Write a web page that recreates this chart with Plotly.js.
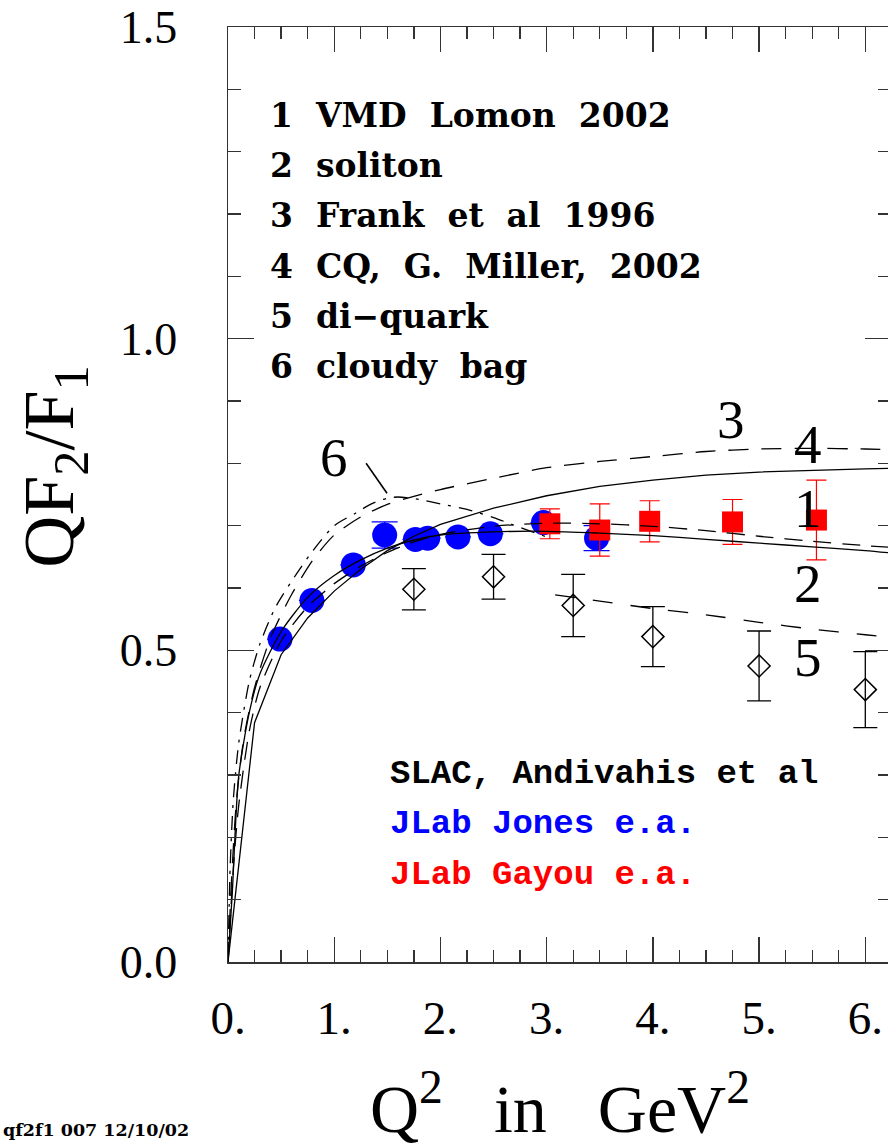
<!DOCTYPE html>
<html>
<head>
<meta charset="utf-8">
<script src="https://cdn.plot.ly/plotly-3.0.1.min.js"></script>
<style>
  html, body { margin: 0; padding: 0; overflow: hidden; background: #fff; }
  #chart { width: 900px; height: 1147px; }
</style>
</head>
<body>
<div id="chart"></div>
<script>
// SLAC, Andivahis et al.
const slacQ2 = [1.75, 2.5, 3.25, 4.0, 5.0, 6.0];
const slacRatio = [0.598, 0.618, 0.572, 0.522, 0.475, 0.437];
const slacErr = [0.033, 0.036, 0.050, 0.048, 0.056, 0.061];

// JLab, Jones et al.
const jonesQ2 = [0.49, 0.79, 1.18, 1.475, 1.765, 1.88, 2.165, 2.47, 2.97, 3.47];
const jonesRatio = [0.518, 0.580, 0.637, 0.685, 0.678, 0.680, 0.682, 0.687, 0.705, 0.680];
const jonesErr = [0, 0, 0, 0.021, 0, 0, 0, 0, 0, 0.020];

// JLab, Gayou et al.
const gayouQ2 = [3.03, 3.50, 3.97, 4.75, 5.54];
const gayouRatio = [0.703, 0.693, 0.707, 0.706, 0.709];
const gayouErr = [0.024, 0.042, 0.033, 0.036, 0.064];

// Model curves
const vmdQ2 = [0, 0.05, 0.1, 0.2, 0.3, 0.5, 0.75, 1.0, 1.25, 1.5, 1.75, 2.0, 2.5, 3.0, 3.5, 4.0, 4.5, 5.0, 5.5, 6.0, 6.25];
const vmdRatio = [0, 0.15, 0.25, 0.37, 0.44, 0.515, 0.57, 0.607, 0.635, 0.657, 0.674, 0.686, 0.699, 0.704, 0.703, 0.699, 0.692, 0.683, 0.675, 0.668, 0.665];

const solitonQ2 = [0, 0.04, 0.1, 0.2, 0.3, 0.5, 0.75, 1.0, 1.25, 1.5, 1.75, 2.0, 2.5, 3.0, 3.5, 4.0, 4.5, 5.0, 5.5, 6.0, 6.25];
const solitonRatio = [0, 0.11, 0.297, 0.40, 0.462, 0.53, 0.585, 0.62, 0.645, 0.664, 0.677, 0.685, 0.690, 0.691, 0.688, 0.684, 0.678, 0.672, 0.666, 0.660, 0.656];

const frankQ2 = [0, 0.03, 0.08, 0.15, 0.25, 0.4, 0.6, 0.8, 1.0, 1.25, 1.5, 1.75, 2.0, 2.5, 3.0, 3.5, 4.0, 4.5, 5.0, 5.5, 6.0, 6.25];
const frankRatio = [0, 0.12, 0.26, 0.36, 0.44, 0.52, 0.59, 0.645, 0.685, 0.714, 0.734, 0.747, 0.758, 0.776, 0.793, 0.803, 0.811, 0.819, 0.823, 0.824, 0.823, 0.822];

const millerQ2 = [0, 0.25, 0.5, 0.75, 1.0, 1.25, 1.5, 1.75, 2.0, 2.5, 3.0, 3.5, 4.0, 4.5, 5.0, 5.5, 6.0, 6.25];
const millerRatio = [0, 0.384, 0.493, 0.552, 0.595, 0.630, 0.660, 0.683, 0.702, 0.728, 0.748, 0.763, 0.773, 0.781, 0.786, 0.789, 0.791, 0.792];

const diquarkQ2 = [3.08, 3.5, 4.0, 4.5, 5.0, 5.5, 6.0, 6.25];
const diquarkRatio = [0.589, 0.579, 0.567, 0.557, 0.545, 0.534, 0.525, 0.521];

const cloudyQ2 = [0, 0.02, 0.05, 0.1, 0.2, 0.3, 0.45, 0.65, 0.8, 1.0, 1.2, 1.35, 1.5, 1.6, 1.8, 2.0, 2.25, 2.5, 2.75, 3.0];
const cloudyRatio = [0, 0.15, 0.26, 0.35, 0.45, 0.51, 0.57, 0.624, 0.66, 0.70, 0.72, 0.735, 0.744, 0.746, 0.742, 0.735, 0.726, 0.713, 0.697, 0.682];

// Model list and curve numbers
const modelNames = ['VMD Lomon 2002', 'soliton', 'Frank et al 1996', 'CQ, G. Miller, 2002', 'di\u2212quark', 'cloudy bag'];
const curveTags = ['1', '2', '3', '4', '5', '6'];
const dataSetNames = ['SLAC, Andivahis et al', 'JLab Jones e.a.', 'JLab Gayou e.a.'];

const serif = 'Liberation Serif, Times New Roman, serif';
const ink = '#000000';
const frame = '#333333';
const wide = '\u00a0\u00a0';

function curve(x, y, dash, shape) {
  return {
    x: x, y: y, type: 'scatter', mode: 'lines', hoverinfo: 'skip',
    line: {color: ink, width: 1.3, dash: dash, shape: shape || 'spline', smoothing: 0.7}
  };
}

const traces = [
  {
    x: slacQ2, y: slacRatio, type: 'scatter', mode: 'markers', cliponaxis: false,
    marker: {symbol: 'diamond-open', size: 17, color: ink, line: {width: 1.5, color: ink}},
    error_y: {type: 'data', array: slacErr, visible: true, color: ink, thickness: 1.3, width: 12}
  },
  {
    x: jonesQ2, y: jonesRatio, type: 'scatter', mode: 'markers',
    marker: {symbol: 'circle', size: 25, color: '#0000ff'},
    error_y: {type: 'data', array: jonesErr, visible: true, color: '#0000ff', thickness: 1.3, width: 13}
  },
  {
    x: gayouQ2, y: gayouRatio, type: 'scatter', mode: 'markers',
    marker: {symbol: 'square', size: 21, color: '#ff0000'},
    error_y: {type: 'data', array: gayouErr, visible: true, color: '#ff0000', thickness: 1.2, width: 10}
  },
  curve(vmdQ2, vmdRatio, '18px,11px'),
  curve(solitonQ2, solitonRatio, 'solid'),
  curve(frankQ2, frankRatio, '20px,13px'),
  curve(millerQ2, millerRatio, 'solid', 'linear'),
  curve(diquarkQ2, diquarkRatio, '20px,18px'),
  curve(cloudyQ2, cloudyRatio, '14px,8px,3px,8px')
];

const annotations = [];

// Model list in the upper left
modelNames.forEach((name, i) => {
  annotations.push({
    xref: 'x', yref: 'y', x: 0.378, y: 1.358 - i * 0.0805,
    xanchor: 'left', yanchor: 'middle', showarrow: false,
    text: curveTags[i] + wide + name.replace(/ /g, wide),
    font: {family: 'DejaVu Serif, serif', size: 33, color: ink, weight: 'bold'}
  });
});

// Data set list
const dataColors = [ink, '#0000ff', '#ff0000'];
dataSetNames.forEach((name, i) => {
  annotations.push({
    xref: 'x', yref: 'y', x: 1.505, y: 0.302 - i * 0.081,
    xanchor: 'left', yanchor: 'middle', showarrow: false,
    text: name,
    font: {family: 'Liberation Mono, Courier New, monospace', size: 34, color: dataColors[i], weight: 'bold'}
  });
});

// Curve numbers placed next to each model
const tagX = [5.46, 5.46, 4.74, 5.46, 5.46, 1.0];
const tagY = [0.728, 0.608, 0.870, 0.830, 0.489, 0.810];
curveTags.forEach((t, i) => {
  annotations.push({
    xref: 'x', yref: 'y', x: tagX[i], y: tagY[i],
    xanchor: 'center', yanchor: 'middle', showarrow: false,
    text: t, font: {family: serif, size: 55, color: ink}
  });
});

// Axis titles
annotations.push({
  xref: 'paper', yref: 'paper', x: 0.5, y: -0.152,
  xanchor: 'center', yanchor: 'middle', showarrow: false,
  text: 'Q<sup>2</sup>\u00a0\u00a0\u00a0in\u00a0\u00a0\u00a0GeV<sup>2</sup>',
  font: {family: serif, size: 68, color: ink}
});
annotations.push({
  xref: 'paper', yref: 'paper', x: -0.262, y: 0.53,
  xanchor: 'center', yanchor: 'middle', showarrow: false, textangle: -90,
  text: 'QF<sub>2</sub>/F<sub>1</sub>',
  font: {family: serif, size: 72, color: ink}
});

// Plot stamp
annotations.push({
  xref: 'paper', yref: 'paper', x: -0.343, y: -0.180,
  xanchor: 'left', yanchor: 'middle', showarrow: false,
  text: 'qf2f1 007 12/10/02',
  font: {family: 'DejaVu Serif, serif', size: 17.5, color: ink, weight: 'bold'}
});

const layout = {
  width: 900, height: 1147,
  margin: {l: 227.5, r: 9, t: 27, b: 185},
  paper_bgcolor: '#ffffff', plot_bgcolor: '#ffffff',
  showlegend: false,
  xaxis: {
    range: [0, 6.242], tick0: 0, dtick: 1, ticksuffix: '.',
    showline: true, linecolor: frame, linewidth: 1.5, mirror: 'ticks',
    ticks: 'inside', ticklen: 25, tickwidth: 1.3, tickcolor: frame,
    minor: {dtick: 0.25, ticks: 'inside', ticklen: 12, tickwidth: 1.3, tickcolor: frame, showgrid: false},
    showgrid: false, zeroline: false, ticklabelstandoff: 14,
    tickfont: {family: serif, size: 47, color: ink}
  },
  yaxis: {
    range: [0, 1.5], tick0: 0, dtick: 0.5, tickformat: '.1f',
    showline: true, linecolor: frame, linewidth: 1.5, mirror: 'ticks',
    ticks: 'inside', ticklen: 26, tickwidth: 1.3, tickcolor: frame,
    minor: {dtick: 0.1, ticks: 'inside', ticklen: 13, tickwidth: 1.3, tickcolor: frame, showgrid: false},
    showgrid: false, zeroline: false, ticklabelstandoff: 40,
    tickfont: {family: serif, size: 46, color: ink}
  },
  annotations: annotations,
  shapes: [
    // leader from tag 6 to the cloudy bag maximum
    {type: 'line', xref: 'x', yref: 'y', x0: 1.30, y0: 0.800, x1: 1.497, y1: 0.752,
     line: {color: ink, width: 1.6}}
  ]
};

Plotly.newPlot('chart', traces, layout, {staticPlot: true, displayModeBar: false});
</script>
</body>
</html>
